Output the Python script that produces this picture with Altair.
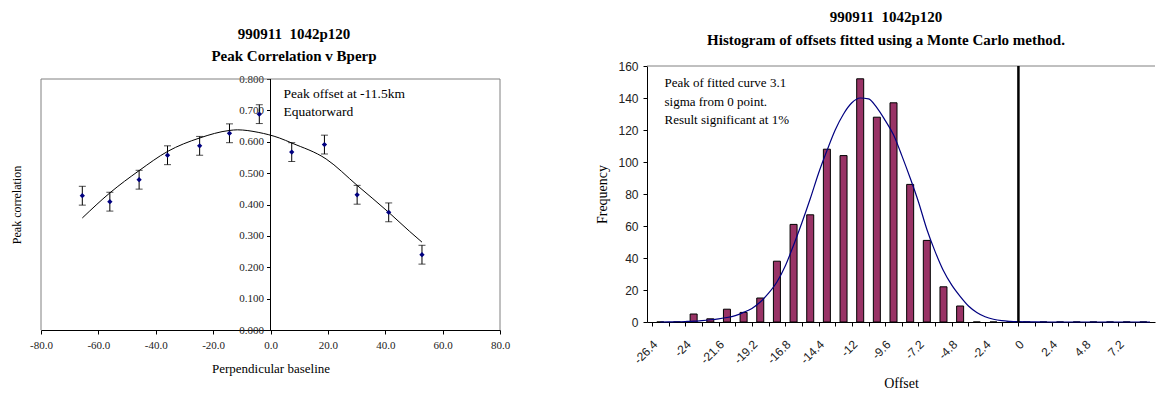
import json
import altair as alt
import pandas as pd

# ---------------- Left chart data ----------------
bperp = [-65.6, -56.0, -45.8, -35.9, -24.7, -14.3, -3.9, 7.4, 18.8, 30.2, 41.2, 52.8]
peak_corr = [0.428, 0.409, 0.479, 0.557, 0.587, 0.627, 0.688, 0.567, 0.591, 0.431, 0.375, 0.240]
corr_err = [0.03, 0.03, 0.03, 0.03, 0.03, 0.03, 0.03, 0.03, 0.03, 0.03, 0.03, 0.03]
fit_bperp = [-65.6, -56.0, -45.8, -35.9, -24.7, -14.3, -11.5, -4.3, 3.1, 7.4, 19.4, 30.2, 41.2, 48.4, 52.8]
fit_corr = [0.357, 0.437, 0.508, 0.569, 0.612, 0.636, 0.638, 0.630, 0.612, 0.596, 0.545, 0.461, 0.375, 0.315, 0.280]
left_x_ticks = [-80, -60, -40, -20, 0, 20, 40, 60, 80]
left_x_labels = ["-80.0", "-60.0", "-40.0", "-20.0", "0.0", "20.0", "40.0", "60.0", "80.0"]
left_y_ticks = [0.0, 0.1, 0.2, 0.3, 0.4, 0.5, 0.6, 0.7, 0.8]
left_y_labels = ["0.000", "0.100", "0.200", "0.300", "0.400", "0.500", "0.600", "0.700", "0.800"]
left_y_max = 0.8
left_note = "Peak offset at -11.5km\nEquatorward"
left_note_pos = [4.5, 0.775]

# ---------------- Right chart data ----------------
offset_bins = [-26.4, -25.2, -24.0, -22.8, -21.6, -20.4, -19.2, -18.0, -16.8, -15.6,
               -14.4, -13.2, -12.0, -10.8, -9.6, -8.4, -7.2, -6.0, -4.8, -3.6,
               -2.4, -1.2, 0.0, 1.2, 2.4, 3.6, 4.8, 6.0, 7.2, 8.4]
frequency = [0, 0, 5, 2, 8, 6, 15, 38, 61, 67,
             108, 104, 152, 128, 137, 86, 51, 22, 10, 0,
             0, 0, 0, 0, 0, 0, 0, 0, 0, 0]
fit_offset = [-26.4, -25.8, -25.2, -24.6, -24.0, -23.4, -22.8, -22.2, -21.6, -21.0,
              -20.4, -19.8, -19.2, -18.6, -18.0, -17.4, -16.8, -16.2, -15.6, -15.0,
              -14.4, -13.8, -13.2, -12.6, -12.0, -11.4, -10.8, -10.2, -9.6, -9.0,
              -8.4, -7.8, -7.2, -6.6, -6.0, -5.4, -4.8, -4.2, -3.6, -3.0,
              -2.4, -1.8, -1.2, -0.6, 0.0, 0.6, 1.8, 3.0, 4.2, 5.4, 6.6, 7.8, 8.88]
fit_freq = [0.0, 0.1, 0.15, 0.3, 0.5, 0.9, 1.4, 2.0, 2.8, 4.0,
            6.0, 8.5, 12.5, 18, 25, 35, 48, 62, 77, 93,
            107, 120, 130, 137, 140, 139.5, 134, 126, 117, 104,
            90, 75, 58, 44, 32, 23, 16, 10, 6, 3.3,
            1.7, 0.8, 0.4, 0.2, 0.1, 0.05, 0, 0, 0, 0, 0, 0, 0]
zero_point = [-0.6]
right_x_ticks = [-27.0, -25.8, -24.6, -23.4, -22.2, -21.0, -19.8, -18.6, -17.4, -16.2,
                 -15.0, -13.8, -12.6, -11.4, -10.2, -9.0, -7.8, -6.6, -5.4, -4.2,
                 -3.0, -1.8, -0.6, 0.6, 1.8, 3.0, 4.2, 5.4, 6.6, 7.8]
right_x_labels = ["-26.4", "", "-24", "", "-21.6", "", "-19.2", "", "-16.8", "",
                  "-14.4", "", "-12", "", "-9.6", "", "-7.2", "", "-4.8", "",
                  "-2.4", "", "0", "", "2.4", "", "4.8", "", "7.2", ""]
right_y_ticks = [0, 20, 40, 60, 80, 100, 120, 140, 160]
right_note = "Peak of fitted curve 3.1\nsigma from 0 point.\nResult significant at 1%"
right_note_pos = [-26.1, 153.2]

SERIF = "Liberation Serif"
SANS = "Liberation Sans"

# ---------------- Left chart ----------------
# plot area shares its top with the right panel; the frame is drawn at y = 0.8
LW, LH_DATA, EXTRA = 459, 251, 13
LH = LH_DATA + EXTRA
ldom_top = left_y_max * LH / LH_DATA
half = LW / 2.0

left_pts = pd.DataFrame({"x": bperp, "y": peak_corr,
                         "lo": [v - e for v, e in zip(peak_corr, corr_err)],
                         "hi": [v + e for v, e in zip(peak_corr, corr_err)]})
left_fit = pd.DataFrame({"x": fit_bperp, "y": fit_corr})
left_txt = pd.DataFrame({"x": [left_note_pos[0]], "y": [left_note_pos[1]], "t": [left_note]})
left_frame = pd.DataFrame({"x": [-80, -80, 80], "x2": [-80, 80, 80],
                           "y": [0, left_y_max, 0], "y2": [left_y_max, left_y_max, left_y_max]})
left_yline = pd.DataFrame({"x": [0], "y": [0], "y2": [left_y_max]})

lx_axis = alt.Axis(values=left_x_ticks,
                   labelExpr=f"{json.dumps(left_x_labels)}[round((datum.value + 80) / 20)]",
                   title="Perpendicular baseline", titleFont=SERIF, titleFontSize=13,
                   titleFontWeight="normal", titleColor="black", titlePadding=12,
                   labelFont=SERIF, labelFontSize=11, labelColor="#222", labelPadding=5,
                   domainColor="black", tickColor="black", tickSize=4, grid=False,
                   labelFlush=False, labelOverlap=False)
ly_axis = alt.Axis(values=left_y_ticks, domain=False,
                   labelExpr=f"{json.dumps(left_y_labels)}[round(datum.value * 10)]",
                   offset=-half, title="Peak correlation", titleFont=SERIF, titleFontSize=12,
                   titleFontWeight="normal", titleColor="black",
                   titleX=-(half + 24.3), titleY=EXTRA + LH_DATA / 2.0, titleAngle=270,
                   titleAlign="center", titleBaseline="middle",
                   labelFont=SERIF, labelFontSize=11, labelColor="#222", labelPadding=3,
                   tickColor="black", tickSize=4, grid=False,
                   labelFlush=False, labelOverlap=False)
lxs = alt.Scale(domain=[-80, 80], nice=False, zero=False)
lys = alt.Scale(domain=[0, ldom_top], nice=False)
lx = alt.X("x:Q", scale=lxs, axis=lx_axis)
ly = alt.Y("y:Q", scale=lys, axis=ly_axis)

l_frame = alt.Chart(left_frame).mark_rule(color="#808080", strokeWidth=1).encode(
    x=lx, x2="x2:Q", y=ly, y2="y2:Q")
l_yline = alt.Chart(left_yline).mark_rule(color="black", strokeWidth=1).encode(
    x=lx, y=ly, y2="y2:Q")
l_rule = alt.Chart(left_pts).mark_rule(color="black", strokeWidth=1).encode(
    x=lx, y=alt.Y("lo:Q", scale=lys, axis=ly_axis), y2="hi:Q")
l_cap_lo = alt.Chart(left_pts).mark_tick(orient="horizontal", size=7, thickness=1, color="black").encode(
    x=lx, y=alt.Y("lo:Q", scale=lys, axis=ly_axis))
l_cap_hi = alt.Chart(left_pts).mark_tick(orient="horizontal", size=7, thickness=1, color="black").encode(
    x=lx, y=alt.Y("hi:Q", scale=lys, axis=ly_axis))
l_line = alt.Chart(left_fit).mark_line(color="black", strokeWidth=1, interpolate="monotone").encode(x=lx, y=ly)
l_pts = alt.Chart(left_pts).mark_point(shape="diamond", filled=True, size=28, color="#000080", opacity=1).encode(x=lx, y=ly)
l_txt = alt.Chart(left_txt).mark_text(align="left", baseline="top", font=SERIF, fontSize=13.5,
                                      lineBreak="\n", lineHeight=18, color="black").encode(
    x=lx, y=ly, text="t:N")

left = alt.layer(l_frame, l_yline, l_line, l_rule, l_cap_lo, l_cap_hi, l_pts, l_txt).properties(
    width=LW, height=LH,
    view=alt.ViewBackground(stroke="transparent"),
    title=alt.TitleParams(text=["990911\u00a0\u00a01042p120", "Peak Correlation v Bperp"],
                          font=SERIF, fontSize=15, fontWeight="bold", color="black",
                          lineHeight=22, anchor="middle", dx=23.5, offset=2),
)

# ---------------- Right chart ----------------
RW, RH = 508, 256
right_bars = pd.DataFrame({"x": offset_bins, "y": frequency})
right_fit = pd.DataFrame({"x": fit_offset, "y": fit_freq})
right_zero = pd.DataFrame({"x": zero_point})
right_top = pd.DataFrame({"y": [160]})
right_txt = pd.DataFrame({"x": [right_note_pos[0]], "y": [right_note_pos[1]], "t": [right_note]})

rx_axis = alt.Axis(values=right_x_ticks,
                   labelExpr=f"{json.dumps(right_x_labels)}[round((datum.value + 27) / 1.2)]",
                   labelAngle=315, labelAlign="right", labelBaseline="middle", labelOffset=3,
                   title="Offset", titleFont=SERIF, titleFontSize=14, titleFontWeight="normal",
                   titleColor="black", titlePadding=11,
                   labelFont=SANS, labelFontSize=12, labelColor="#222", labelPadding=16,
                   domainColor="black", tickColor="black", tickSize=4, grid=False,
                   labelFlush=False, labelOverlap=False)
ry_axis = alt.Axis(values=right_y_ticks, title="Frequency", titleFont=SERIF, titleFontSize=14,
                   titleFontWeight="normal", titleColor="black", titlePadding=8,
                   labelFont=SANS, labelFontSize=12, labelColor="#222", labelPadding=5,
                   domainColor="black", tickColor="black", tickSize=4, grid=False,
                   labelFlush=False, labelOverlap=False)
rx = alt.X("x:Q", scale=alt.Scale(domain=[-27, 8.88], nice=False, zero=False), axis=rx_axis)
ry = alt.Y("y:Q", scale=alt.Scale(domain=[0, 160], nice=False), axis=ry_axis)

r_bars = alt.Chart(right_bars).mark_bar(size=7, color="#993366", stroke="black", strokeWidth=1).encode(x=rx, y=ry)
r_fit = alt.Chart(right_fit).mark_line(color="#000080", strokeWidth=1.2, interpolate="monotone").encode(x=rx, y=ry)
r_zero = alt.Chart(right_zero).mark_rule(color="black", strokeWidth=2.5).encode(x=rx)
r_top = alt.Chart(right_top).mark_rule(color="#808080", strokeWidth=1).encode(y=ry)
r_txt = alt.Chart(right_txt).mark_text(align="left", baseline="top", font=SERIF, fontSize=13,
                                       lineBreak="\n", lineHeight=18.7, color="black").encode(
    x=rx, y=ry, text="t:N")

right = alt.layer(r_top, r_bars, r_fit, r_zero, r_txt).properties(
    width=RW, height=RH,
    view=alt.ViewBackground(stroke="transparent"),
    title=alt.TitleParams(text=["990911\u00a0\u00a01042p120",
                                "Histogram of offsets fitted using a Monte Carlo method."],
                          font=SERIF, fontSize=15, fontWeight="bold", color="black",
                          lineHeight=23, anchor="middle", dx=-15, offset=12),
)

chart = alt.hconcat(left, right, spacing=84).properties(
    padding={"left": 10, "top": 9, "right": 0, "bottom": 0}
).configure(background="white")

chart.save("out.html", embed_options={"renderer": "svg", "actions": False})
